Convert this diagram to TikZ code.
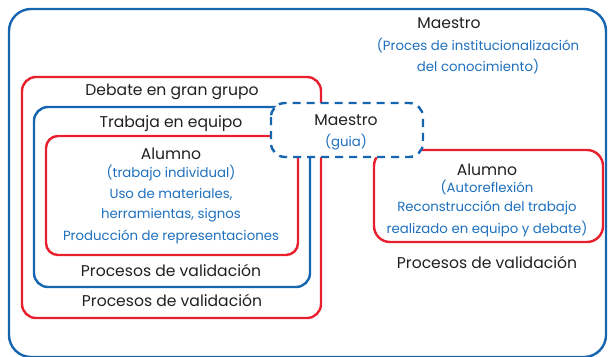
\documentclass[tikz,border=0pt]{standalone}
\usepackage{fontspec}
\setmainfont{Poppins}
\definecolor{bblue}{RGB}{21,101,176}
\definecolor{rred}{RGB}{232,32,45}
\definecolor{tblue}{RGB}{30,112,190}
\definecolor{tblack}{RGB}{35,31,32}
\begin{document}
\begin{tikzpicture}[x=1pt,y=-1pt,
  bluebox/.style={draw=bblue,line width=2.4pt,rounded corners=16pt},
  redbox/.style={draw=rred,line width=2.4pt,rounded corners=14pt},
  dashbox/.style={draw=bblue,line width=2.4pt,rounded corners=14pt,dash pattern=on 8pt off 6pt,fill=white},
  tt/.style={font=\fontsize{15.6}{17}\selectfont,text=tblack,inner sep=0pt},
  tb/.style={font=\fontsize{13.3}{15}\selectfont,text=tblue,inner sep=0pt}]
\useasboundingbox (0,0) rectangle (609,356);
\draw[bluebox,rounded corners=22pt] (9,9) rectangle (606,357);
\draw[redbox] (22,77) rectangle (321,318);
\draw[bluebox,rounded corners=14pt] (34,107) rectangle (310,287);
\draw[redbox,rounded corners=12pt] (46,136) rectangle (298,255);
\draw[redbox,rounded corners=16pt] (374,150) rectangle (603,242);
\draw[dashbox] (271,103) rectangle (423,157);
% outer texts
\node[tt] (m1) at (449,23) {Maestro};
\node[tb] (m2) at (478,46) {(Proces de institucionalización};
\node[tb] (m3) at (478,67) {del conocimiento)};
% box 1
\node[tt] (d1) at (172,92) {Debate en gran grupo};
\node[tt] (d2) at (172,300) {Procesos de validación};
% box 2
\node[tt] (e1) at (171,124) {Trabaja en equipo};
\node[tt] (e2) at (171,270) {Procesos de validación};
% box 3
\node[tt] (a1) at (171,154) {Alumno};
\node[tb] (a2) at (171,173) {(trabajo individual)};
\node[tb] (a3) at (171,194) {Uso de materiales,};
\node[tb] (a4) at (171,215) {herramientas, signos};
\node[tb] (a5) at (171,237) {Producción de representaciones};
% dashed
\node[tt] (g1) at (346,120) {Maestro};
\node[tb] (g2) at (346,142) {(guia)};
% right box
\node[tt] (r1) at (487,170) {Alumno};
\node[tb] (r2) at (487,188) {(Autoreflexión};
\node[tb] (r3) at (487,208) {Reconstrucción del trabajo};
\node[tb] (r4) at (487,229) {realizado en equipo y debate)};
\node[tt] (r5) at (487,262) {Procesos de validación};
\end{tikzpicture}
\end{document}
